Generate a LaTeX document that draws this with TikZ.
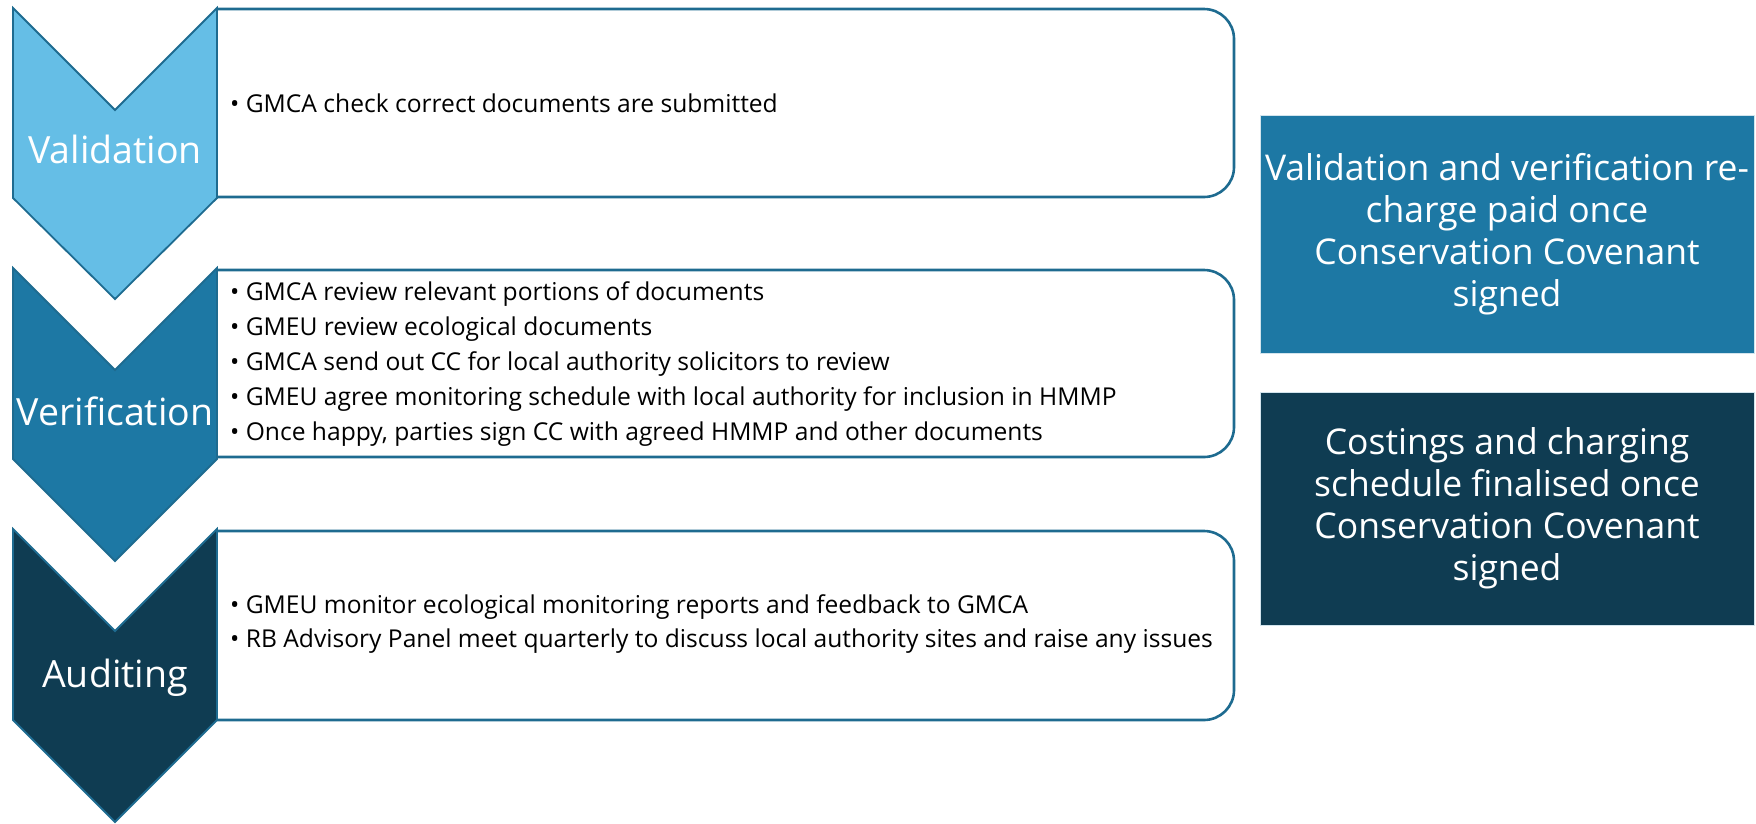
\documentclass[tikz,border=0pt]{standalone}
\usepackage{fontspec}
\setmainfont{Open Sans}
\definecolor{lightblue}{HTML}{65BEE6}
\definecolor{midblue}{HTML}{1D78A4}
\definecolor{darkblue}{HTML}{0F3C52}
\definecolor{edgeblue}{HTML}{1E6B90}
\begin{document}
\begin{tikzpicture}[x=1pt,y=-1pt,
  chevron/.style={draw=edgeblue,line width=1.8pt,line join=miter},
  stagebox/.style={draw=edgeblue,line width=2.6pt,rounded corners=30pt},
  stagelabel/.style={text=white,font=\fontsize{37.5}{42}\selectfont,anchor=base,inner sep=0pt},
  bullets/.style={text=black,font=\fontsize{24.6}{34.8}\selectfont,anchor=west,align=left,inner sep=0pt},
  notebox/.style={text=white,font=\fontsize{35.5}{42}\selectfont,align=center,inner sep=0pt,
    minimum width=494pt,minimum height=238pt,draw=white!80!midblue,line width=0.8pt}]
\useasboundingbox (0,0) rectangle (1756,823);

% text boxes (left side meets the chevron edge)
\draw[stagebox] (217,9) -- (1234,9) -- (1234,197) -- (217,197);
\draw[stagebox] (217,270) -- (1234,270) -- (1234,457) -- (217,457);
\draw[stagebox] (217,531) -- (1234,531) -- (1234,720) -- (217,720);

% chevrons
\draw[chevron,fill=lightblue] (13,8) -- (115,110) -- (217,8) -- (217,198) -- (115,299) -- (13,198) -- cycle;
\draw[chevron,fill=midblue] (13,268) -- (115,370) -- (217,268) -- (217,459) -- (115,561) -- (13,459) -- cycle;
\draw[chevron,fill=darkblue] (13,529) -- (115,631) -- (217,529) -- (217,720) -- (115,822) -- (13,720) -- cycle;

% stage names
\node[stagelabel] (lval) at (115,163) {Validation};
\node[stagelabel] (lver) at (115,425) {Verification};
\node[stagelabel] (laud) at (115,687) {Auditing};

% stage activities
\node[bullets] (tval) at (230,103) {• GMCA check correct documents are submitted};
\node[bullets] (tver) at (230,364) {• GMCA review relevant portions of documents\\
• GMEU review ecological documents\\
• GMCA send out CC for local authority solicitors to review\\
• GMEU agree monitoring schedule with local authority for inclusion in HMMP\\
• Once happy, parties sign CC with agreed HMMP and other documents};
\node[bullets] (taud) at (230,624) {• GMEU monitor ecological monitoring reports and feedback to GMCA\\
• RB Advisory Panel meet quarterly to discuss local authority sites and raise any issues};

% charging notes
\node[notebox,fill=midblue] (nval) at (1507,234) {Validation and verification re-\\charge paid once\\Conservation Covenant\\signed};
\node[notebox,fill=darkblue,minimum height=233pt] (ncost) at (1507,508.5) {Costings and charging\\schedule finalised once\\Conservation Covenant\\signed};
\end{tikzpicture}
\end{document}
